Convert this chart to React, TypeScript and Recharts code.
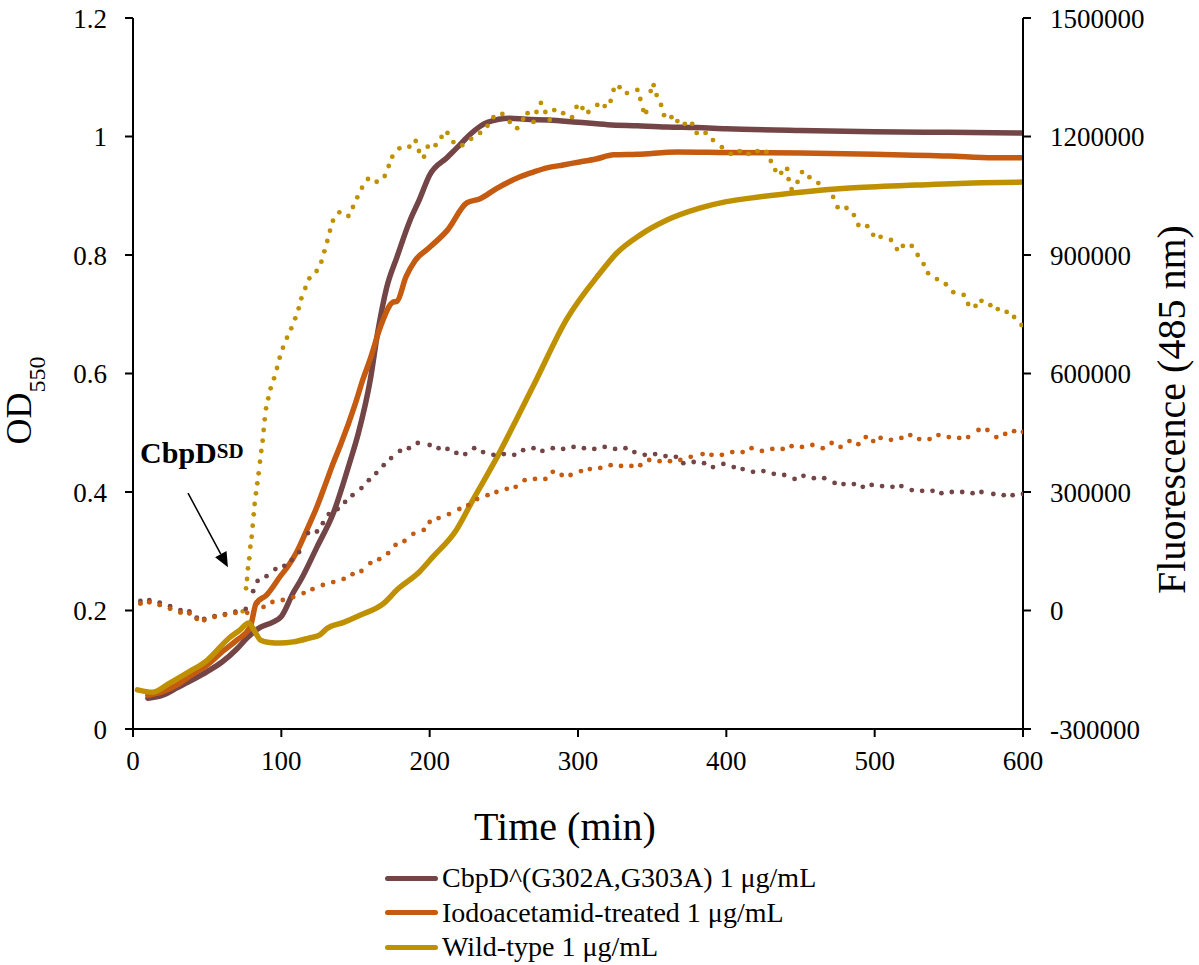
import React from 'react';
import { LineChart, Line, XAxis, YAxis, ReferenceLine, Legend } from 'recharts';

const FONT = '"Liberation Serif", "Times New Roman", serif';

// ---- axis ticks ----
const TIME_TICKS = [0, 100, 200, 300, 400, 500, 600];
const OD_TICKS = [0, 0.2, 0.4, 0.6, 0.8, 1, 1.2];
const FL_TICKS = [-300000, 0, 300000, 600000, 900000, 1200000, 1500000];

// ---- series names / colours ----
const SERIES_NAMES = [
  'CbpD^(G302A,G303A) 1 μg/mL',
  'Iodoacetamid-treated 1 μg/mL',
  'Wild-type 1 μg/mL',
];
const SERIES_COLORS = ['#744546', '#C55A11', '#BF9000'];

// ---- OD550 (left axis) ----
const mutantOdTimes = [10, 20, 30, 40, 50, 60, 70, 77, 86, 94, 100, 108, 113, 124, 135, 146, 152, 160, 165, 171, 178, 187, 193, 200, 212, 220, 227, 239, 254, 265, 280, 300, 320, 340, 360, 380, 400, 450, 500, 550, 600];
const mutantOdValues = [0.052, 0.057, 0.07, 0.083, 0.097, 0.113, 0.135, 0.154, 0.172, 0.18, 0.19, 0.23, 0.251, 0.307, 0.364, 0.449, 0.5, 0.59, 0.67, 0.745, 0.797, 0.86, 0.893, 0.935, 0.965, 0.985, 1.003, 1.024, 1.031, 1.029, 1.028, 1.024, 1.02, 1.018, 1.016, 1.015, 1.013, 1.01, 1.008, 1.007, 1.006];

const iodoOdTimes = [10, 20, 30, 40, 50, 60, 70, 79, 83, 90, 100, 104, 110, 117, 124, 130, 135, 140, 150, 155, 160, 167, 175, 178, 184, 190, 200, 212, 225, 234, 245, 261, 270, 279, 290, 301, 312, 324, 340, 367, 400, 450, 500, 550, 580, 600];
const iodoOdValues = [0.057, 0.063, 0.075, 0.092, 0.108, 0.13, 0.15, 0.172, 0.212, 0.226, 0.26, 0.273, 0.297, 0.335, 0.375, 0.415, 0.449, 0.48, 0.55, 0.59, 0.625, 0.68, 0.72, 0.722, 0.763, 0.79, 0.813, 0.842, 0.888, 0.895, 0.912, 0.932, 0.94, 0.947, 0.952, 0.957, 0.962, 0.969, 0.97, 0.974, 0.973, 0.972, 0.97, 0.967, 0.964, 0.964];

const wildOdTimes = [3, 13, 25, 36, 50, 65, 72, 78, 82, 86, 92, 99, 108, 118, 126, 131, 142, 153, 169, 178, 193, 202, 218, 229, 247, 260, 272, 292, 315, 326, 342, 360, 382, 400, 416, 450, 483, 528, 573, 600];
const wildOdValues = [0.066, 0.062, 0.078, 0.094, 0.116, 0.154, 0.167, 0.179, 0.165, 0.15, 0.146, 0.145, 0.147, 0.153, 0.159, 0.17, 0.18, 0.192, 0.212, 0.235, 0.265, 0.29, 0.336, 0.386, 0.466, 0.53, 0.59, 0.69, 0.77, 0.803, 0.834, 0.859, 0.879, 0.89, 0.896, 0.906, 0.913, 0.918, 0.922, 0.923];

// ---- Fluorescence 485 nm (right axis) ----
const wildFlTimes = [5, 11, 18, 25, 32, 38, 43, 48, 55, 62, 69, 74,
  76.2, 76.9, 77.5, 78.4, 79.1, 80, 80.7, 81.4, 82, 82.9, 83.8, 84.7, 85.6, 86.5, 87.4, 88.1, 88.8, 89.7, 91.2, 92.8,
  95.1, 97.1, 98.9, 101.1, 103.8, 106.7, 109.4, 111.7, 113.5, 116.2, 118.9, 123.8, 127, 129, 131, 132.8, 134.8, 139.1, 145.2, 148.3, 151.2, 154.4, 158.4, 164.3, 169.7, 172.4, 174.8, 179.6, 186.3, 190.6, 192.8, 196.2, 198.7,
  204, 208, 212, 216, 222, 228, 234, 239, 243, 249, 254, 259, 263, 266, 270, 272, 275, 278, 281, 284, 290, 296, 299, 303, 307, 313, 318, 322, 324, 328, 333, 340, 342, 344, 346, 349, 351, 353, 356, 358, 363, 367, 372, 377, 380, 386, 391, 397, 403, 409, 415, 421, 427, 430, 433, 437, 441, 442, 444, 448, 451, 456, 462, 467, 472, 475, 481, 486, 489, 495, 499, 504, 511, 515, 519, 525, 529, 533, 536, 542, 548, 553, 560, 563, 568, 572, 578, 583, 589, 594, 599];
const wildFlValues = [18000, 21000, 14000, 5000, -5000, -7000, -21000, -24000, -16000, -11000, -6000, -2000,
  56200, 79700, 106800, 132100, 161500, 186800, 214700, 243500, 269600, 296700, 322000, 347300, 376700, 403800, 429900, 456900, 484000, 511900, 537200, 562500,
  587800, 613900, 640000, 665300, 690600, 714400, 739700, 765000, 790400, 816400, 841000, 859500, 883000, 909300, 935400, 961500, 986800, 1008100, 998700, 1021500, 1046100, 1070400, 1092400, 1085500, 1100000, 1125300, 1148800, 1170100, 1174200, 1188600, 1163300, 1148800, 1174200,
  1178000, 1199000, 1209000, 1186000, 1178000, 1194000, 1209000, 1227000, 1249000, 1257000, 1237000, 1221000, 1244000, 1259000, 1237000, 1262000, 1285000, 1262000, 1242000, 1267000, 1259000, 1249000, 1275000, 1272000, 1262000, 1280000, 1277000, 1290000, 1318000, 1325000, 1310000, 1318000, 1295000, 1267000, 1262000, 1315000, 1330000, 1305000, 1280000, 1254000, 1249000, 1239000, 1232000, 1232000, 1209000, 1209000, 1191000, 1173000, 1156000, 1163000, 1156000, 1163000, 1161000, 1138000, 1115000, 1108000, 1118000, 1092000, 1067000, 1085000, 1110000, 1097000, 1082000, 1065000, 1047000, 1021000, 1019000, 1001000, 976000, 973000, 951000, 946000, 938000, 915000, 923000, 923000, 900000, 877000, 854000, 839000, 826000, 806000, 799000, 776000, 771000, 784000, 773000, 763000, 756000, 743000, 723000];

const mutantFlTimes = [5, 11, 18, 25, 32, 38, 43, 48, 55, 62, 69, 76, 81, 84, 90, 96, 102, 107, 112, 118, 124, 128, 132, 138, 143, 148, 154, 159, 164, 169, 174, 180, 186, 192, 200, 206, 212, 218, 224, 230, 236, 243, 250, 257, 263, 270, 276, 283, 290, 297, 304, 311, 318, 325, 332, 338, 345, 352, 359, 366, 371, 378, 385, 391, 398, 405, 411, 418, 425, 432, 439, 446, 452, 459, 466, 473, 479, 486, 492, 498, 505, 512, 518, 525, 532, 539, 545, 552, 559, 566, 572, 580, 587, 593, 600];
const mutantFlValues = [24000, 26000, 20000, 11000, 1000, -2000, -18000, -21000, -14000, -9000, -3000, 4000, 49000, 75000, 87000, 105000, 113000, 128000, 148000, 196000, 200000, 221000, 244000, 257000, 275000, 292000, 310000, 330000, 348000, 368000, 386000, 404000, 411000, 424000, 419000, 411000, 409000, 399000, 396000, 411000, 401000, 394000, 396000, 394000, 406000, 411000, 404000, 411000, 409000, 414000, 411000, 409000, 414000, 409000, 411000, 401000, 394000, 396000, 391000, 389000, 373000, 376000, 373000, 363000, 371000, 363000, 358000, 351000, 353000, 346000, 343000, 333000, 341000, 335000, 335000, 323000, 320000, 320000, 313000, 318000, 315000, 313000, 315000, 305000, 303000, 303000, 297000, 300000, 300000, 297000, 300000, 295000, 292000, 292000, 295000];

const iodoFlTimes = [5, 11, 18, 25, 32, 38, 43, 48, 55, 62, 69, 77, 84, 88, 94, 101, 108, 115, 121, 128, 135, 142, 148, 154, 160, 166, 172, 177, 183, 189, 196, 200, 206, 213, 220, 226, 232, 239, 245, 252, 258, 264, 271, 278, 283, 289, 295, 302, 308, 315, 322, 329, 336, 342, 348, 355, 362, 369, 376, 384, 390, 397, 404, 411, 417, 424, 431, 438, 444, 451, 458, 465, 471, 477, 483, 489, 494, 499, 504, 511, 518, 524, 530, 537, 543, 550, 557, 563, 570, 576, 582, 588, 594, 600];
const iodoFlValues = [18000, 21000, 14000, 5000, -5000, -7000, -21000, -24000, -16000, -11000, -6000, -6000, 19000, 9000, 21500, 26600, 34000, 44000, 54000, 64500, 72000, 80000, 92000, 100000, 120000, 130000, 145000, 166000, 176000, 194000, 204000, 224000, 234000, 244000, 257000, 267000, 282000, 292000, 300000, 308000, 313000, 330000, 333000, 333000, 351000, 343000, 343000, 353000, 358000, 361000, 368000, 366000, 366000, 368000, 381000, 378000, 378000, 381000, 389000, 396000, 394000, 394000, 401000, 401000, 411000, 404000, 409000, 409000, 416000, 414000, 419000, 411000, 424000, 414000, 429000, 421000, 439000, 429000, 437000, 432000, 437000, 444000, 434000, 434000, 444000, 439000, 437000, 439000, 457000, 457000, 439000, 447000, 454000, 452000];

// ---- annotation (data coordinates: time, OD) ----
const ARROW_FROM = { t: 37.1, od: 0.398 };
const ARROW_TO = { t: 64, od: 0.273 };

const pairs = (ts: number[], vs: number[]) => ts.map((t, i) => ({ t, v: vs[i] }));

const mutantOd = pairs(mutantOdTimes, mutantOdValues);
const iodoOd = pairs(iodoOdTimes, iodoOdValues);
const wildOd = pairs(wildOdTimes, wildOdValues);
const mutantFl = pairs(mutantFlTimes, mutantFlValues);
const iodoFl = pairs(iodoFlTimes, iodoFlValues);
const wildFl = pairs(wildFlTimes, wildFlValues);

const tickStyle = { fontSize: 27, fill: '#000', fontFamily: FONT };
const axisLineStyle = { stroke: '#000', strokeWidth: 2 };

const renderArrow = (p: any) => {
  const { x1, y1, x2, y2 } = p;
  const dx = x2 - x1;
  const dy = y2 - y1;
  const len = Math.sqrt(dx * dx + dy * dy) || 1;
  const ux = dx / len;
  const uy = dy / len;
  const headLen = 15;
  const headHalf = 6.5;
  const bx = x2 - ux * headLen;
  const by = y2 - uy * headLen;
  const pts = `${x2},${y2} ${bx - uy * headHalf},${by + ux * headHalf} ${bx + uy * headHalf},${by - ux * headHalf}`;
  return (
    <g>
      <line x1={x1} y1={y1} x2={bx} y2={by} stroke="#000" strokeWidth={1.5} />
      <polygon points={pts} fill="#000" />
      <text x={x1 - 48} y={y1 - 30} fontFamily={FONT} fontWeight="bold" fontSize={30} fill="#000">
        CbpD<tspan fontSize={21} dy={-5}>SD</tspan>
      </text>
    </g>
  );
};

const renderXLabel = (p: any) => {
  const vb = p.viewBox;
  return (
    <text x={vb.x + vb.width / 2 - 13} y={vb.y + 111} textAnchor="middle" fontSize={40} fontFamily={FONT} fill="#000">
      Time (min)
    </text>
  );
};

const renderOdLabel = (p: any) => {
  const vb = p.viewBox;
  const cx = vb.x + 31;
  const cy = vb.y + vb.height / 2 + 27;
  return (
    <text x={cx} y={cy} transform={`rotate(-90, ${cx}, ${cy})`} textAnchor="middle" fontSize={36} fontFamily={FONT} fill="#000">
      OD<tspan fontSize={24} dy={14}>550</tspan>
    </text>
  );
};

const renderFlLabel = (p: any) => {
  const vb = p.viewBox;
  const cx = vb.x + 162;
  const cy = vb.y + vb.height / 2 + 36;
  return (
    <text x={cx} y={cy} transform={`rotate(-90, ${cx}, ${cy})`} textAnchor="middle" fontSize={40} fontFamily={FONT} fill="#000">
      Fluorescence (485 nm)
    </text>
  );
};

const renderLegend = () => (
  <div style={{ fontFamily: FONT, fontSize: 28, color: '#000' }}>
    {SERIES_NAMES.map((name, i) => (
      <div key={name} style={{ display: 'flex', alignItems: 'center', height: 34.5 }}>
        <div style={{ width: 53, height: 5, borderRadius: 2.5, background: SERIES_COLORS[i] }} />
        <span style={{ marginLeft: 4, lineHeight: '34px', whiteSpace: 'nowrap' }}>{name}</span>
      </div>
    ))}
  </div>
);

export default function App() {
  return (
    <div style={{ position: 'absolute', left: 0, top: 0, width: 1199, height: 965, background: '#fff', fontFamily: FONT }}>
      <LineChart width={1199} height={965} margin={{ top: 18, right: 0, bottom: 116, left: 0 }}>
        <XAxis
          xAxisId={0}
          type="number"
          dataKey="t"
          domain={[0, 600]}
          ticks={TIME_TICKS}
          height={120}
          tick={tickStyle}
          tickSize={8}
          tickMargin={14}
          axisLine={axisLineStyle}
          tickLine={axisLineStyle}
          allowDataOverflow
          label={renderXLabel}
        />
        <YAxis
          yAxisId="od"
          orientation="left"
          type="number"
          domain={[0, 1.2]}
          ticks={OD_TICKS}
          width={133}
          tick={tickStyle}
          tickSize={8}
          tickMargin={18}
          axisLine={axisLineStyle}
          tickLine={axisLineStyle}
          tickFormatter={(v: number) => String(v)}
          allowDataOverflow
          label={renderOdLabel}
        />
        <YAxis
          yAxisId="fl"
          orientation="right"
          type="number"
          domain={[-300000, 1500000]}
          ticks={FL_TICKS}
          width={176}
          tick={tickStyle}
          tickSize={8}
          tickMargin={19}
          axisLine={axisLineStyle}
          tickLine={axisLineStyle}
          tickFormatter={(v: number) => String(v)}
          allowDataOverflow
          label={renderFlLabel}
        />
        <Legend verticalAlign="middle" layout="horizontal" wrapperStyle={{ top: 861, left: 385, width: 700, height: 104 }} content={renderLegend} />

        <Line data={mutantOd} dataKey="v" name={SERIES_NAMES[0]} yAxisId="od" type="monotone" stroke={SERIES_COLORS[0]} strokeWidth={5.5} strokeLinecap="round" strokeLinejoin="round" dot={false} activeDot={false} isAnimationActive={false} />
        <Line data={iodoOd} dataKey="v" name={SERIES_NAMES[1]} yAxisId="od" type="monotone" stroke={SERIES_COLORS[1]} strokeWidth={5.5} strokeLinecap="round" strokeLinejoin="round" dot={false} activeDot={false} isAnimationActive={false} />
        <Line data={wildOd} dataKey="v" name={SERIES_NAMES[2]} yAxisId="od" type="monotone" stroke={SERIES_COLORS[2]} strokeWidth={5.5} strokeLinecap="round" strokeLinejoin="round" dot={false} activeDot={false} isAnimationActive={false} />

        <Line data={wildFl} dataKey="v" name="Wild-type fluorescence" yAxisId="fl" type="linear" stroke="none" legendType="none" dot={{ r: 2.4, fill: SERIES_COLORS[2], stroke: 'none', strokeWidth: 0 }} activeDot={false} isAnimationActive={false} />
        <Line data={mutantFl} dataKey="v" name="CbpD mutant fluorescence" yAxisId="fl" type="linear" stroke="none" legendType="none" dot={{ r: 2.4, fill: SERIES_COLORS[0], stroke: 'none', strokeWidth: 0 }} activeDot={false} isAnimationActive={false} />
        <Line data={iodoFl} dataKey="v" name="Iodoacetamid fluorescence" yAxisId="fl" type="linear" stroke="none" legendType="none" dot={{ r: 2.4, fill: SERIES_COLORS[1], stroke: 'none', strokeWidth: 0 }} activeDot={false} isAnimationActive={false} />

        <ReferenceLine
          yAxisId="od"
          segment={[{ x: ARROW_FROM.t, y: ARROW_FROM.od }, { x: ARROW_TO.t, y: ARROW_TO.od }]}
          ifOverflow="visible"
          shape={renderArrow}
        />
      </LineChart>
    </div>
  );
}
